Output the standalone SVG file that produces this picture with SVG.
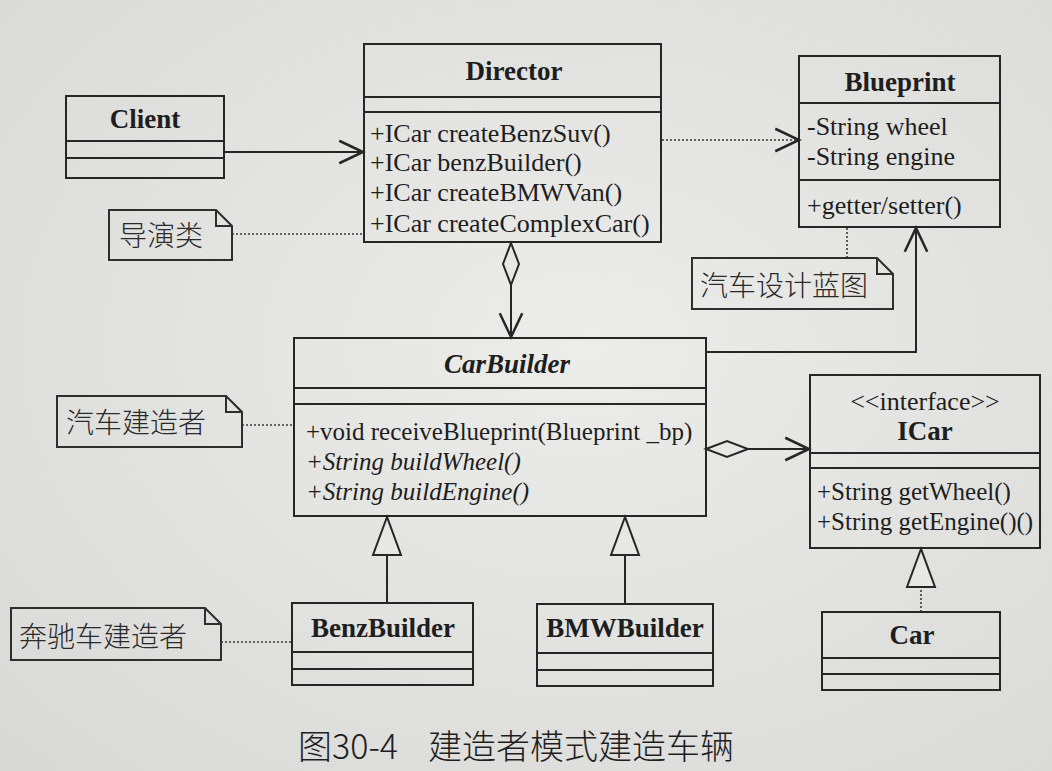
<svg xmlns="http://www.w3.org/2000/svg" width="1052" height="771" viewBox="0 0 1052 771">
<defs>
<radialGradient id="bg" cx="0.55" cy="0.45" r="0.75">
<stop offset="0" stop-color="#ececea"/>
<stop offset="1" stop-color="#d9d9d7"/>
</radialGradient>
<marker id="openArrow" markerUnits="userSpaceOnUse" markerWidth="30" markerHeight="30" viewBox="-22 -12 24 24" refX="0" refY="0" orient="auto" overflow="visible">
<path d="M-19,-9 L0,0 L-19,9" fill="none" stroke="#262626" stroke-width="2" stroke-dasharray="none"/>
</marker>
<marker id="diamond" markerUnits="userSpaceOnUse" markerWidth="50" markerHeight="20" viewBox="0 -10 50 20" refX="0" refY="0" orient="auto" overflow="visible">
<path d="M0,0 L21,-8 L42,0 L21,8 Z" fill="#e7e7e5" stroke="#262626" stroke-width="2" stroke-dasharray="none"/>
</marker>
<marker id="hollowTri" markerUnits="userSpaceOnUse" markerWidth="44" markerHeight="32" viewBox="-42 -16 44 32" refX="0" refY="0" orient="auto" overflow="visible">
<path d="M0,0 L-38,-14 L-38,14 Z" fill="#e7e7e5" stroke="#262626" stroke-width="2" stroke-dasharray="none"/>
</marker>
</defs>
<style>
.box{fill:none;stroke:#262626;stroke-width:2}
.ln{fill:none;stroke:#262626;stroke-width:2}
.dot{fill:none;stroke:#3a3a3a;stroke-width:1.6;stroke-dasharray:2 2}
.t{font-family:"Liberation Serif","Times New Roman",serif;font-size:26px;fill:#1e1e1e}
.s{font-size:25px}
.b{font-family:"Liberation Serif","Times New Roman",serif;font-size:27px;font-weight:bold;fill:#1e1e1e;text-anchor:middle}
.i{font-style:italic}
.note{fill:none;stroke:#2e2e2e;stroke-width:2}
.nt{font-family:"Noto Sans CJK SC","Noto Sans",sans-serif;font-size:28px;font-weight:300;fill:#2a2a2a}
.cap{font-family:"Noto Sans CJK SC","Noto Sans",sans-serif;font-size:34px;font-weight:300;fill:#1e1e1e}
</style>
<rect x="0" y="0" width="1052" height="771" fill="url(#bg)"/>

<g id="connectors">
<line class="ln" x1="224" y1="152" x2="363" y2="152" marker-end="url(#openArrow)"/>
<line class="dot" x1="662" y1="140" x2="799" y2="140" marker-end="url(#openArrow)"/>
<line class="ln" x1="511" y1="243" x2="511" y2="337" marker-start="url(#diamond)" marker-end="url(#openArrow)"/>
<polyline class="ln" points="706,352 916,352 916,228" marker-end="url(#openArrow)"/>
<line class="ln" x1="706" y1="449" x2="809" y2="449" marker-start="url(#diamond)" marker-end="url(#openArrow)"/>
<line class="ln" x1="387" y1="603" x2="387" y2="517" marker-end="url(#hollowTri)"/>
<line class="ln" x1="625" y1="604" x2="625" y2="517" marker-end="url(#hollowTri)"/>
<line class="dot" x1="921" y1="612" x2="921" y2="549" marker-end="url(#hollowTri)"/>
<line class="dot" x1="232" y1="234" x2="363" y2="234"/>
<line class="dot" x1="847" y1="228" x2="847" y2="258"/>
<line class="dot" x1="242" y1="425" x2="294" y2="425"/>
<line class="dot" x1="221" y1="642" x2="292" y2="642"/>
</g>

<g id="Client">
<rect class="box" x="66" y="96" width="158" height="82"/>
<line class="ln" x1="66" y1="141" x2="224" y2="141"/>
<line class="ln" x1="66" y1="158" x2="224" y2="158"/>
<text class="b" x="145" y="128">Client</text>
</g>

<g id="Director">
<rect class="box" x="364" y="44" width="297" height="198"/>
<line class="ln" x1="364" y1="97" x2="661" y2="97"/>
<line class="ln" x1="364" y1="112" x2="661" y2="112"/>
<text class="b" x="514" y="80">Director</text>
<text class="t" x="370" y="142">+ICar createBenzSuv()</text>
<text class="t" x="370" y="171">+ICar benzBuilder()</text>
<text class="t" x="370" y="201">+ICar createBMWVan()</text>
<text class="t" x="370" y="232">+ICar createComplexCar()</text>
</g>

<g id="Blueprint">
<rect class="box" x="799" y="56" width="201" height="171"/>
<line class="ln" x1="799" y1="103" x2="1000" y2="103"/>
<line class="ln" x1="799" y1="180" x2="1000" y2="180"/>
<text class="b" x="900" y="91">Blueprint</text>
<text class="t" x="807" y="135">-String wheel</text>
<text class="t" x="807" y="165">-String engine</text>
<text class="t" x="807" y="214">+getter/setter()</text>
</g>

<g id="CarBuilder">
<rect class="box" x="294" y="338" width="412" height="178"/>
<line class="ln" x1="294" y1="388" x2="706" y2="388"/>
<line class="ln" x1="294" y1="404" x2="706" y2="404"/>
<text class="b i" x="507" y="373">CarBuilder</text>
<text class="t s" x="306" y="440">+void receiveBlueprint(Blueprint _bp)</text>
<text class="t s i" x="306" y="470">+String buildWheel()</text>
<text class="t s i" x="306" y="500">+String buildEngine()</text>
</g>

<g id="ICar">
<rect class="box" x="810" y="375" width="230" height="173"/>
<line class="ln" x1="810" y1="453" x2="1040" y2="453"/>
<line class="ln" x1="810" y1="468" x2="1040" y2="468"/>
<text class="t" x="925" y="410" text-anchor="middle">&lt;&lt;interface&gt;&gt;</text>
<text class="b" x="925" y="440">ICar</text>
<text class="t s" x="817" y="500">+String getWheel()</text>
<text class="t s" x="817" y="530">+String getEngine()()</text>
</g>

<g id="Car">
<rect class="box" x="822" y="612" width="178" height="78"/>
<line class="ln" x1="822" y1="658" x2="1000" y2="658"/>
<line class="ln" x1="822" y1="674" x2="1000" y2="674"/>
<text class="b" x="912" y="644">Car</text>
</g>

<g id="BenzBuilder">
<rect class="box" x="292" y="603" width="181" height="82"/>
<line class="ln" x1="292" y1="652" x2="473" y2="652"/>
<line class="ln" x1="292" y1="669" x2="473" y2="669"/>
<text class="b" x="383" y="637">BenzBuilder</text>
</g>

<g id="BMWBuilder">
<rect class="box" x="537" y="604" width="176" height="82"/>
<line class="ln" x1="537" y1="653" x2="713" y2="653"/>
<line class="ln" x1="537" y1="670" x2="713" y2="670"/>
<text class="b" x="625" y="637">BMWBuilder</text>
</g>

<g id="note-director">
<path class="note" d="M109,210 H216 L232,226 V260 H109 Z M216,210 V226 H232"/>
<text class="nt" x="119" y="246">导演类</text>
</g>

<g id="note-blueprint">
<path class="note" d="M692,258 H877 L893,274 V309 H692 Z M877,258 V274 H893"/>
<text class="nt" x="700" y="296">汽车设计蓝图</text>
</g>

<g id="note-carbuilder">
<path class="note" d="M57,396 H226 L242,412 V447 H57 Z M226,396 V412 H242"/>
<text class="nt" x="66" y="433">汽车建造者</text>
</g>

<g id="note-benz">
<path class="note" d="M11,608 H205 L221,624 V660 H11 Z M205,608 V624 H221"/>
<text class="nt" x="19" y="647">奔驰车建造者</text>
</g>

<text class="cap" x="298" y="759">图30-4<tspan x="428">建造者模式建造车辆</tspan></text>
</svg>
